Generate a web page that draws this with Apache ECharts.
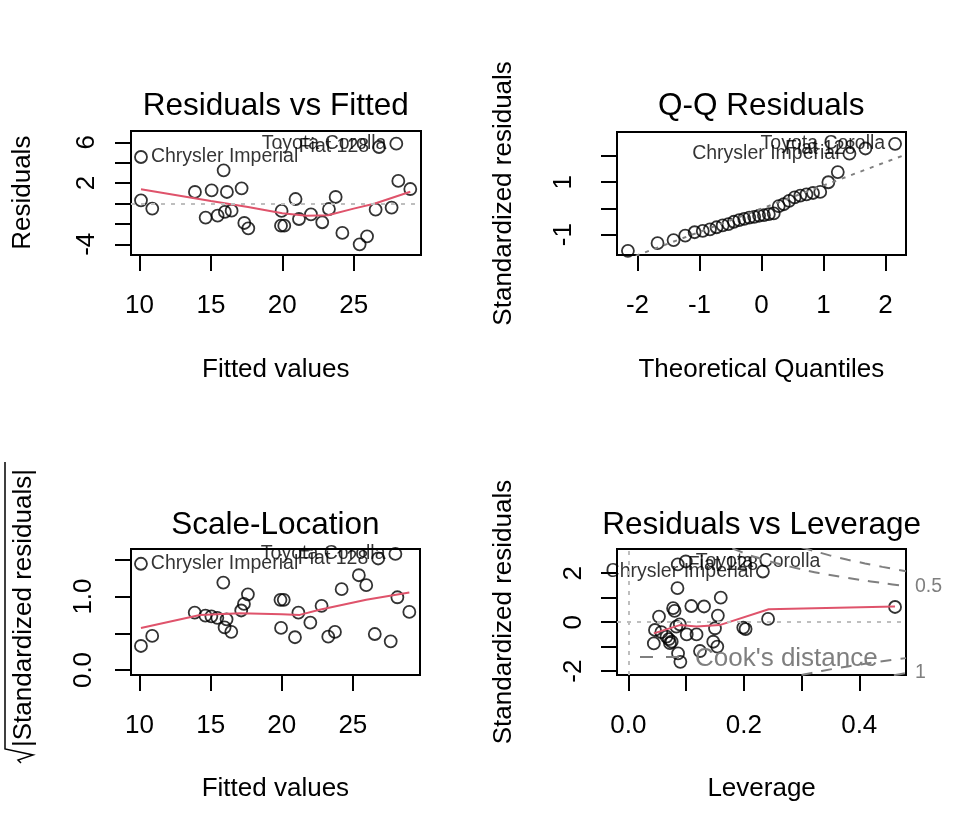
<!DOCTYPE html>
<html><head><meta charset="utf-8">
<script src="https://cdn.jsdelivr.net/npm/echarts@6/dist/echarts.min.js"></script>
<style>html,body{margin:0;padding:0;background:#fff}#c{width:974px;height:838px}</style>
</head><body><div id="c"></div><script>
// ---------- Panel 1 (Residuals vs Fitted) & Panel 3 (Scale-Location), same point order ----------
const fittedValues = [10.10,10.10,10.89,13.88,15.05,16.12,15.89,17.15,14.63,15.47,15.98,16.45,17.34,17.62,19.95,19.91,20.14,20.93,21.17,22.01,22.80,23.27,23.74,24.21,25.42,25.94,26.54,26.78,27.66,27.99,28.13,28.97];
const residuals = [4.56,0.31,-0.50,1.13,1.29,1.13,3.25,1.49,-1.38,-1.19,-0.83,-0.70,-1.91,-2.43,-0.73,-2.17,-2.17,0.44,-1.52,-1.06,-1.84,-0.54,0.64,-2.89,-4.00,-3.22,-0.60,5.54,-0.40,5.87,2.21,1.42];
const sqrtAbsStdResiduals = [1.446,0.327,0.464,0.782,0.73,0.69,1.19,0.81,0.74,0.71,0.58,0.52,0.90,1.03,0.573,0.955,0.955,0.446,0.78,0.645,0.873,0.454,0.518,1.10,1.29,1.155,0.49,1.518,0.39,1.58,0.99,0.79];
const fittedLabelIdx = [0, 27, 29];
const fittedLabelNames = ['Chrysler Imperial', 'Fiat 128', 'Toyota Corolla'];
const rvfSmoothX = [10.10,15.0,17.6,20.0,21.7,23.2,25.0,26.5,28.97];
const rvfSmoothY = [1.40,0.25,-0.35,-0.95,-1.20,-1.15,-0.50,0.0,1.15];
const slSmoothX = [10.10,14.25,17.07,20.0,21.26,22.66,25.94,28.97];
const slSmoothY = [0.573,0.75,0.773,0.76,0.75,0.82,0.955,1.055];

// ---------- Panel 2 (Q-Q Residuals) ----------
const qqTheoretical = [-2.154,-1.676,-1.418,-1.230,-1.078,-0.947,-0.831,-0.725,-0.626,-0.534,-0.445,-0.360,-0.278,-0.197,-0.118,-0.039,0.039,0.118,0.197,0.278,0.360,0.445,0.534,0.626,0.725,0.831,0.947,1.078,1.230,1.418,1.676,2.154];
const qqSample = [-1.62,-1.33,-1.21,-1.04,-0.91,-0.86,-0.80,-0.72,-0.65,-0.60,-0.51,-0.45,-0.40,-0.35,-0.32,-0.28,-0.26,-0.22,-0.19,0.09,0.16,0.29,0.42,0.49,0.54,0.59,0.63,1.00,1.39,2.09,2.29,2.47];
const qqLabelIdx = [29, 30, 31];
const qqLabelNames = ['Chrysler Imperial', 'Fiat 128', 'Toyota Corolla'];
const qqLineX = [-2.33, 2.33];
const qqLineY = [-2.08, 2.06];

// ---------- Panel 4 (Residuals vs Leverage) ----------
const leverage = [0.0855,0.0994,0.233,0.462,0.085,0.0774,0.080,0.109,0.131,0.160,0.155,0.053,0.046,0.057,0.066,0.070,0.075,0.072,0.083,0.089,0.101,0.118,0.150,0.147,0.154,0.124,0.044,0.086,0.090,0.199,0.203,0.242];
const levStdResiduals = [2.36,2.48,2.07,0.62,1.39,0.57,0.46,0.66,0.64,1.00,0.27,0.23,-0.32,-0.41,-0.59,-0.69,-0.80,-0.86,-0.18,-0.09,-0.50,-0.50,-0.25,-0.80,-1.00,-1.18,-0.87,-1.28,-1.62,-0.22,-0.28,0.13];
const levLabelIdx = [0, 1, 2];
const levLabelNames = ['Fiat 128', 'Toyota Corolla', 'Chrysler Imperial'];
const levSmoothX = [0.044,0.089,0.118,0.158,0.243,0.462];
const levSmoothY = [-0.46,-0.12,-0.18,-0.12,0.53,0.64];
const cookHalfUpperX = [0.18,0.20,0.22,0.25,0.28,0.30,0.33,0.36,0.40,0.44,0.481];
const cookHalfUpperY = [3.02,2.83,2.66,2.45,2.27,2.16,2.01,1.89,1.73,1.60,1.47];
const cookOneUpperX = [0.30,0.32,0.35,0.38,0.41,0.44,0.481];
const cookOneUpperY = [3.06,2.92,2.72,2.55,2.40,2.26,2.08];
const cookHalfLowerX = [0.30,0.32,0.35,0.38,0.41,0.44,0.481];
const cookHalfLowerY = [-2.16,-2.06,-1.93,-1.81,-1.70,-1.60,-1.47];
const cookOneLowerX = [0.46,0.481];
const cookOneLowerY = [-2.17,-2.08];

// ---------- Tick values / labels ----------
const p1XTicks = [10,15,20,25], p1XLabels = [10,15,20,25];
const p1YTicks = [-4,-2,0,2,4,6], p1YLabels = [-4,2,6];
const p2XTicks = [-2,-1,0,1,2], p2XLabels = [-2,-1,0,1,2];
const p2YTicks = [-1,0,1,2], p2YLabels = [-1,1];
const p3YTicks = [0,0.5,1,1.5], p3YLabels = [0,1];
const p4XTicks = [0,0.1,0.2,0.3,0.4], p4XLabels = [0,0.2,0.4];
const p4YTicks = [-2,-1,0,1,2], p4YLabels = [-2,0,2];

const FONT = "'Liberation Sans', Arial, Helvetica, sans-serif";
const RED = '#DF536B', LIGHT = '#BEBEBE', GRAY50 = '#7F7F7F';

const zip = (a, b) => a.map((v, i) => [v, b[i]]);

function pointData(xs, ys, idx, names, mid) {
  return xs.map((x, i) => {
    const item = { value: [x, ys[i]] };
    const k = idx.indexOf(i);
    if (k >= 0) {
      item.label = { show: true, formatter: names[k], position: x > mid ? 'left' : 'right',
        distance: 3, fontSize: 19.5, color: '#000', fontFamily: FONT };
    }
    return item;
  });
}

function xAx(gi, min, max, ticks, labels, margin, fmt) {
  return { type: 'value', gridIndex: gi, min, max, axisLine: { show: false, onZero: false }, splitLine: { show: false },
    axisTick: { show: true, length: 16, lineStyle: { color: '#000', width: 2 }, customValues: ticks },
    axisLabel: { customValues: labels, margin, fontSize: 26, color: '#000', fontFamily: FONT,
      formatter: fmt || (v => String(v)) } };
}
function yAx(gi, min, max, ticks, labels, margin, fmt) {
  const a = xAx(gi, min, max, ticks, labels, margin, fmt);
  a.axisLabel.rotate = 90;
  return a;
}

const scatterStyle = { symbol: 'circle', symbolSize: 12,
  itemStyle: { color: 'rgba(0,0,0,0)', borderColor: '#000', borderWidth: 1.8 } };
const dotted = (color) => ({ silent: true, symbol: 'none', label: { show: false },
  lineStyle: { type: [4, 6], color, width: 2 }, animation: false });

const p1Mid = (9.40 + 29.72) / 2, p2Mid = 0, p4Mid = (-0.0198 + 0.481) / 2;

function smoothLine(xi, yi, xs, ys) {
  return { type: 'line', xAxisIndex: xi, yAxisIndex: xi, data: zip(xs, ys), showSymbol: false,
    lineStyle: { color: RED, width: 2 }, silent: true, z: 3 };
}
function cookLine(xs, ys, lbl) {
  const s = { type: 'line', xAxisIndex: 3, yAxisIndex: 3, data: zip(xs, ys), showSymbol: false, smooth: 0.3,
    lineStyle: { color: GRAY50, width: 2, type: [11, 9] }, silent: true, clip: true };
  if (lbl) s.endLabel = { show: true, formatter: lbl, color: GRAY50, fontSize: 19.5, fontFamily: FONT, distance: 9 };
  return s;
}

const option = {
  animation: false,
  backgroundColor: '#fff',
  grid: [
    { left: 131, top: 131, width: 290, height: 124 },
    { left: 617, top: 132, width: 289, height: 123 },
    { left: 131, top: 549, width: 289, height: 126 },
    { left: 617, top: 549, width: 289, height: 126 }
  ].map(g => Object.assign(g, { show: true, borderColor: '#000', borderWidth: 2, backgroundColor: 'transparent' })),
  xAxis: [
    xAx(0, 9.40, 29.72, p1XTicks, p1XLabels, 38),
    xAx(1, -2.33, 2.33, p2XTicks, p2XLabels, 38),
    xAx(2, 9.40, 29.72, p1XTicks, p1XLabels, 38),
    xAx(3, -0.0198, 0.481, p4XTicks, p4XLabels, 38, v => v.toFixed(1))
  ],
  yAxis: [
    yAx(0, -5.05, 7.11, p1YTicks, p1YLabels, 31),
    yAx(1, -1.78, 2.92, p2YTicks, p2YLabels, 40),
    yAx(2, -0.068, 1.647, p3YTicks, p3YLabels, 34, v => v.toFixed(1)),
    yAx(3, -2.16, 2.99, p4YTicks, p4YLabels, 30)
  ],
  series: [
    Object.assign({ type: 'scatter', xAxisIndex: 0, yAxisIndex: 0,
      data: pointData(fittedValues, residuals, fittedLabelIdx, fittedLabelNames, p1Mid),
      markLine: Object.assign(dotted(LIGHT), { data: [{ yAxis: 0 }] }) }, scatterStyle),
    smoothLine(0, 0, rvfSmoothX, rvfSmoothY),

    { type: 'line', xAxisIndex: 1, yAxisIndex: 1, data: zip(qqLineX, qqLineY), showSymbol: false, silent: true,
      lineStyle: { color: GRAY50, width: 2, type: [4, 6] }, clip: true },
    Object.assign({ type: 'scatter', xAxisIndex: 1, yAxisIndex: 1,
      data: pointData(qqTheoretical, qqSample, qqLabelIdx, qqLabelNames, p2Mid) }, scatterStyle),

    Object.assign({ type: 'scatter', xAxisIndex: 2, yAxisIndex: 2,
      data: pointData(fittedValues, sqrtAbsStdResiduals, fittedLabelIdx, fittedLabelNames, p1Mid) }, scatterStyle),
    smoothLine(2, 2, slSmoothX, slSmoothY),

    cookLine(cookHalfUpperX, cookHalfUpperY, '0.5'),
    cookLine(cookOneUpperX, cookOneUpperY, null),
    cookLine(cookHalfLowerX, cookHalfLowerY, null),
    cookLine(cookOneLowerX, cookOneLowerY, '1'),
    Object.assign({ type: 'scatter', xAxisIndex: 3, yAxisIndex: 3,
      data: pointData(leverage, levStdResiduals, levLabelIdx, levLabelNames, p4Mid),
      markLine: Object.assign(dotted(LIGHT), { data: [{ yAxis: 0 }, { xAxis: 0 }] }) }, scatterStyle),
    smoothLine(3, 3, levSmoothX, levSmoothY)
  ],
  graphic: []
};

function txt(text, x, y, size, opts) {
  opts = opts || {};
  return { type: 'text', x, y, rotation: opts.rot || 0, silent: true, z: 100,
    style: { text, font: size + 'px ' + FONT, fill: opts.fill || '#000',
      align: opts.align || 'center', verticalAlign: 'middle',
      textAlign: opts.align || 'center', textVerticalAlign: 'middle' } };
}
const R90 = Math.PI / 2;
option.graphic = [
  txt('Residuals vs Fitted', 275.7, 106, 31.5),
  txt('Q-Q Residuals', 761.3, 106, 31.5),
  txt('Scale-Location', 275.4, 525, 31.5),
  txt('Residuals vs Leverage', 761.6, 525, 31.5),
  txt('Fitted values', 275.7, 370, 26),
  txt('Theoretical Quantiles', 761.3, 370, 26),
  txt('Fitted values', 275.4, 788.6, 26),
  txt('Leverage', 761.6, 788.6, 26),
  txt('Residuals', 22.4, 192.7, 26, { rot: R90 }),
  txt('Standardized residuals', 504, 193.4, 26, { rot: R90 }),
  txt('|Standardized residuals|', 24, 608, 26, { rot: R90 }),
  { type: 'polyline', silent: true, z: 100, shape: { points: [[21, 763], [18, 760], [33, 755], [5, 749], [5, 462]] },
    style: { stroke: '#000', lineWidth: 1.5, fill: null } },
  txt('Standardized residuals', 504, 612, 26, { rot: R90 }),
  { type: 'line', silent: true, z: 100, shape: { x1: 640, y1: 657, x2: 681, y2: 657 },
    style: { stroke: GRAY50, lineWidth: 2, lineDash: [13, 13] } },
  txt("Cook's distance", 695, 659, 26, { align: 'left', fill: GRAY50 })
];

echarts.init(document.getElementById('c'), null, { renderer: 'canvas' }).setOption(option);
</script></body></html>
